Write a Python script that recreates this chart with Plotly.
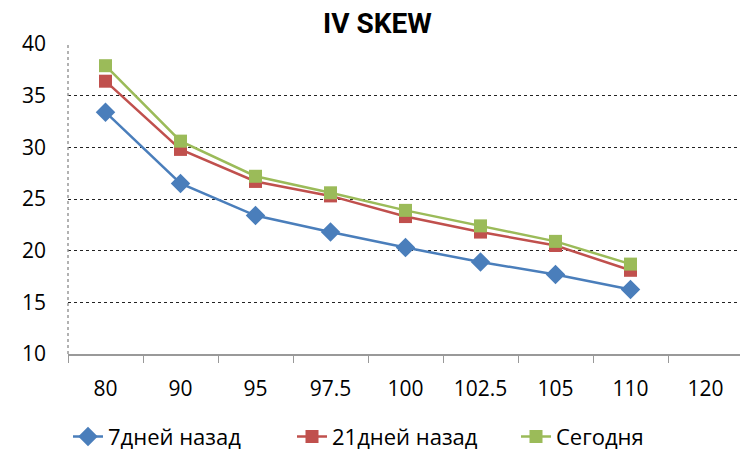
import plotly.graph_objects as go

strikes = ["80", "90", "95", "97.5", "100", "102.5", "105", "110", "120"]
iv_7d = [33.4, 26.5, 23.4, 21.8, 20.3, 18.9, 17.7, 16.25, None]
iv_21d = [36.4, 29.8, 26.7, 25.3, 23.3, 21.8, 20.5, 18.1, None]
iv_today = [37.9, 30.6, 27.2, 25.6, 23.9, 22.4, 20.9, 18.7, None]

series_names = ["7дней назад", "21дней назад", "Сегодня"]
colors = ["#4A7EBB", "#C0504D", "#9BBB59"]
symbols = ["diamond", "square", "square"]

fig = go.Figure()
for name, vals, col, sym in zip(series_names, [iv_7d, iv_21d, iv_today], colors, symbols):
    fig.add_trace(go.Scatter(
        x=strikes, y=vals, name=name, mode="lines+markers",
        line=dict(color=col, width=2.5),
        marker=dict(symbol=sym, size=15 if sym == "diamond" else 13, color=col),
    ))

font_family = "Open Sans, Liberation Sans, sans-serif"
fig.update_layout(
    width=740, height=454,
    margin=dict(l=68, r=0, t=44, b=100),
    paper_bgcolor="white", plot_bgcolor="white",
    title=dict(text="<b>IV SKEW</b>", x=0.51, xanchor="center", y=0.949, yanchor="middle",
               font=dict(family="Roboto, " + font_family, size=28, color="black")),
    font=dict(family=font_family, size=21, color="black"),
    showlegend=True,
    legend=dict(orientation="h", x=0.0, xanchor="left", yref="container", y=0.038,
                yanchor="middle",
                font=dict(size=22), entrywidth=179, entrywidthmode="pixels",
                tracegroupgap=0),
    xaxis=dict(type="category", range=[-0.5, 8.46], showgrid=False,
               showline=True, linecolor="#999999", linewidth=1.5,
               ticks="outside", tickson="boundaries", ticklen=7, tickcolor="#999999",
               tickfont=dict(size=21),
               ticklabelstandoff=15, zeroline=False, automargin=False),
    yaxis=dict(range=[10, 40], dtick=5, showgrid=True, gridcolor="#222222",
               griddash="dot", gridwidth=1, showline=False, zeroline=False,
               tickfont=dict(size=21),
               ticks="", ticklabelstandoff=21, automargin=False),
)
fig.add_shape(type="line", xref="paper", yref="paper", x0=0, x1=0, y0=0, y1=1,
              line=dict(color="#999999", width=1.5, dash="dot"))

fig.write_html("out.html", config={"displayModeBar": False},
               post_script="document.body.style.margin='0';")
